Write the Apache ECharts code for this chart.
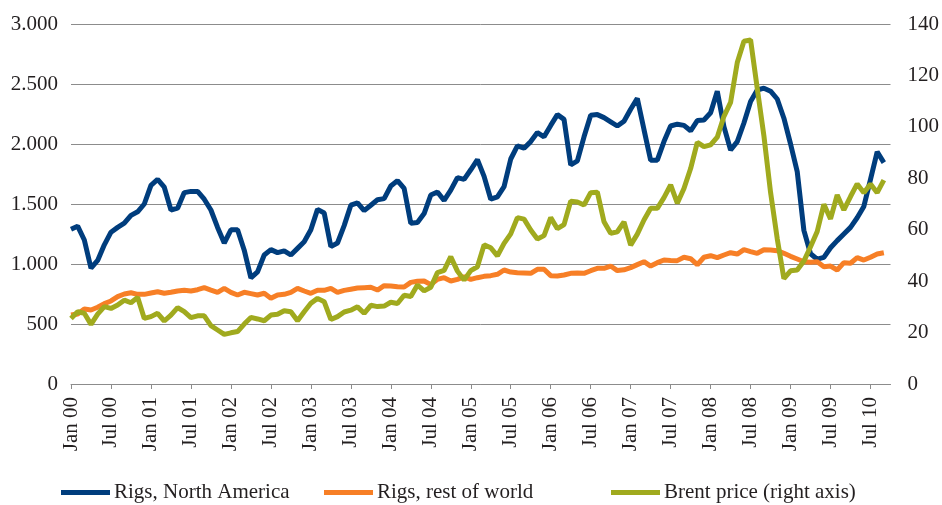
<!DOCTYPE html>
<html>
<head>
<meta charset="utf-8">
<title>Rigs and Brent price</title>
<script src="https://cdn.jsdelivr.net/npm/echarts@6.0.0/dist/echarts.min.js"></script>
<style>
html, body { margin: 0; padding: 0; background: #fff; }
#main { width: 942px; height: 505px; }
</style>
</head>
<body>
<div id="main"></div>
<script>
// monthly, Jan 2000 - Mar 2010 (one empty trailing slot, as in the original)
var months = [];
var monthNames = ['Jan','Feb','Mar','Apr','May','Jun','Jul','Aug','Sep','Oct','Nov','Dec'];
for (var k = 0; k < 124; k++) {
    var yy = Math.floor(k / 12);
    months.push(monthNames[k % 12] + ' ' + (yy < 10 ? '0' + yy : '' + yy));
}

// labels as printed under the axis (every 6th month)
var xTickLabels = ['Jan 00','Jul 00','Jan 01','Jul 01','Jan 02','Jul 02','Jan 03','Jul 03',
    'Jan 04','Jul 04','Jan 05','Jul 05','Jan 06','Jul 06','Jan 07','Jul 07',
    'Jan 08','Jul 08','Jan 09','Jul 09','Jul 10'];
var leftTickLabels = ['0','500','1.000','1.500','2.000','2.500','3.000'];

var rigsNorthAmerica = [
    1290,1315,1200,965,1030,1160,1265,1305,1340,1405,1435,1500,
    1655,1705,1640,1450,1465,1595,1605,1605,1540,1450,1305,1175,
    1285,1285,1115,885,935,1075,1120,1095,1110,1075,1130,1185,
    1285,1455,1425,1145,1175,1320,1490,1510,1445,1490,1535,1545,
    1650,1695,1630,1340,1345,1420,1575,1600,1530,1615,1720,1705,
    1785,1870,1730,1540,1560,1645,1875,1985,1965,2020,2095,2060,
    2155,2245,2205,1825,1860,2060,2240,2245,2220,2185,2150,2190,
    2290,2380,2120,1865,1865,2020,2150,2165,2155,2110,2195,2200,
    2260,2440,2145,1950,2020,2175,2355,2450,2465,2440,2375,2215,
    2000,1770,1280,1085,1040,1055,1135,1195,1250,1305,1385,1480,
    1705,1935,1845
];

var rigsRestOfWorld = [
    575,583,625,617,640,670,692,728,750,760,747,747,
    758,769,756,764,775,781,775,786,803,783,764,797,
    764,742,764,753,742,756,714,742,747,764,797,775,
    756,781,781,797,764,780,790,800,803,806,783,819,
    817,811,808,847,856,858,828,872,886,858,872,894,
    872,886,897,903,914,950,933,928,925,922,956,956,
    903,900,908,922,925,922,944,964,964,983,945,952,
    970,995,1019,983,1011,1033,1030,1028,1056,1044,994,1056,
    1069,1053,1075,1094,1083,1119,1103,1089,1119,1117,1111,1089,
    1064,1042,1019,1014,1019,978,983,950,1011,1006,1053,1033,
    1056,1083,1094
];

var brentPrice = [
    25.5,28.1,27.5,23.2,27.2,30.1,29.4,30.7,32.6,31.6,33.7,25.5,
    26.2,27.5,24.5,26.8,29.7,28.1,25.8,26.5,26.5,22.7,21.0,19.3,
    19.9,20.4,23.3,25.9,25.3,24.6,26.8,27.1,28.5,28.1,24.6,28.1,
    31.4,33.3,32.0,25.1,26.2,28.0,28.7,30.0,27.5,30.6,30.1,30.3,
    31.8,31.3,34.5,34.0,38.5,36.2,37.6,43.3,44.2,49.5,43.9,40.4,
    44.1,45.6,54.1,53.0,49.8,54.7,58.4,64.7,64.1,59.9,56.4,57.7,
    64.7,60.4,62.0,71.1,70.8,69.6,74.4,74.6,63.1,58.6,59.2,63.0,
    54.0,58.3,63.8,68.3,68.3,72.5,77.4,70.3,76.0,83.8,94.0,92.3,
    93.0,96.0,104.1,109.5,125.0,133.3,133.8,115.0,96.5,74.5,56.5,41.0,
    44.0,44.3,47.8,53.4,59.3,69.9,64.2,73.5,67.7,72.9,77.8,74.4,
    77.8,74.4,79.3
];

var seriesNames = ['Rigs, North America', 'Rigs, rest of world', 'Brent price (right axis)'];
var seriesColors = ['#003d7d', '#f77f26', '#a0aa1e'];

var myChart = echarts.init(document.getElementById('main'), null, {renderer: 'canvas'});

var font = 'Liberation Serif';
var textColor = '#231f20';
var gridColor = '#8c8c8c';

function legendFor(i, left) {
    return {
        data: [seriesNames[i]],
        left: left,
        top: 482,
        padding: 0,
        icon: 'rect',
        itemWidth: 49,
        itemHeight: 5,
        itemGap: 0,
        textStyle: {fontFamily: font, fontSize: 21, color: textColor, padding: [0, 0, 0, -1]}
    };
}

var option = {
    animation: false,
    backgroundColor: '#fff',
    color: seriesColors,
    grid: {left: 71, right: 49, top: 24, bottom: 121, containLabel: false},
    legend: [legendFor(0, 61), legendFor(1, 324), legendFor(2, 611)],
    xAxis: {
        type: 'category',
        data: months,
        boundaryGap: false,
        axisLine: {lineStyle: {color: gridColor, width: 1}},
        axisTick: {interval: 5, length: 5, lineStyle: {color: gridColor}},
        axisLabel: {
            interval: 5,
            rotate: 90,
            margin: 13,
            fontFamily: font,
            fontSize: 21,
            color: textColor,
            formatter: function (val, idx) {
                return xTickLabels[Math.round(idx / 6)] || '';
            }
        },
        splitLine: {show: false}
    },
    yAxis: [
        {
            type: 'value',
            min: 0,
            max: 3000,
            interval: 500,
            axisLine: {show: false},
            axisTick: {show: false},
            axisLabel: {
                margin: 13,
                fontFamily: font,
                fontSize: 21,
                color: textColor,
                formatter: function (v) { return leftTickLabels[Math.round(v / 500)]; }
            },
            splitLine: {lineStyle: {color: gridColor, width: 1}}
        },
        {
            type: 'value',
            min: 0,
            max: 140,
            interval: 20,
            position: 'right',
            axisLine: {show: false},
            axisTick: {show: false},
            axisLabel: {margin: 17, fontFamily: font, fontSize: 21, color: textColor},
            splitLine: {show: false}
        }
    ],
    series: [
        {
            name: seriesNames[0],
            type: 'line',
            data: rigsNorthAmerica,
            yAxisIndex: 0,
            symbol: 'none',
            lineStyle: {width: 5, color: seriesColors[0]}
        },
        {
            name: seriesNames[1],
            type: 'line',
            data: rigsRestOfWorld,
            yAxisIndex: 0,
            symbol: 'none',
            lineStyle: {width: 5, color: seriesColors[1]}
        },
        {
            name: seriesNames[2],
            type: 'line',
            data: brentPrice,
            yAxisIndex: 1,
            symbol: 'none',
            lineStyle: {width: 5, color: seriesColors[2]}
        }
    ]
};

myChart.setOption(option);
</script>
</body>
</html>
